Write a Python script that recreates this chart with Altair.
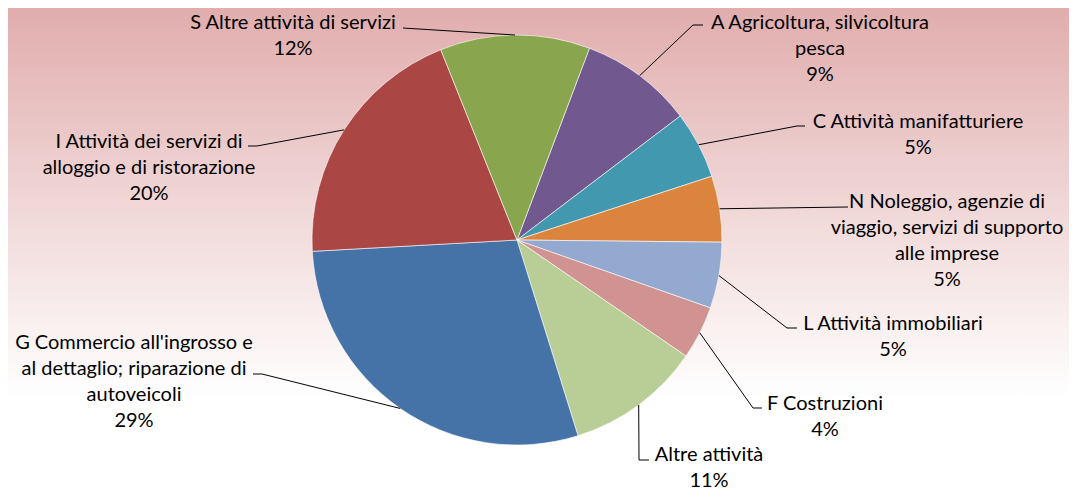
import altair as alt
import pandas as pd
import numpy as np

# ---------------- data ----------------
categories = [
    "A Agricoltura, silvicoltura pesca",
    "C Attività manifatturiere",
    "N Noleggio, agenzie di viaggio, servizi di supporto alle imprese",
    "L Attività immobiliari",
    "F Costruzioni",
    "Altre attività",
    "G Commercio all'ingrosso e al dettaglio; riparazione di autoveicoli",
    "I Attività dei servizi di alloggio e di ristorazione",
    "S Altre attività di servizi",
]
values = [8.9, 5.3, 5.2, 5.2, 4.2, 10.6, 28.9, 19.8, 11.8]
label_text = [
    "A Agricoltura, silvicoltura\npesca",
    "C Attività manifatturiere",
    "N Noleggio, agenzie di\nviaggio, servizi di supporto\nalle imprese",
    "L Attività immobiliari",
    "F Costruzioni",
    "Altre attività",
    "G Commercio all'ingrosso e\nal dettaglio; riparazione di\nautoveicoli",
    "I Attività dei servizi di\nalloggio e di ristorazione",
    "S Altre attività di servizi",
]
colors = ["#71588F", "#4198AF", "#DB843D", "#93A9CF", "#D19392",
          "#B9CD96", "#4572A7", "#AA4643", "#89A54E"]

# ---------------- layout ----------------
W, H = 1061, 482
OFF = 8                      # page margin
CX, CY, R = 517 - OFF, 240 - OFF, 205
START = np.deg2rad(20.7)     # first slice begins right of 12 o'clock

# label anchors (page coords: centre x, first baseline y)
label_pos = [(820, 29), (918, 128), (947, 208), (893, 330), (825, 410),
             (709, 461), (134, 349), (149, 148), (293, 29)]
# leader line elbow / end points (page coords), edge point computed from data
leader_pts = [
    [(693, 25), (703, 25)],
    [(797, 126), (805, 126)],
    [(848, 207)],
    [(787, 328), (797, 328)],
    [(753, 408), (762, 408)],
    [(639, 460), (649, 460)],
    [(262, 374), (253, 374)],
    [(257, 146), (248, 146)],
    [(403, 28)],
]

total = sum(values)
pie_df = pd.DataFrame({"cat": categories, "value": values,
                       "idx": list(range(len(values)))})

# mid-angle edge points computed from the values
cum = np.cumsum(values)
mids = START + 2 * np.pi * (cum - np.array(values) / 2) / total
rows = []
for i, c in enumerate(categories):
    ex = CX + R * np.sin(mids[i])
    ey = CY - R * np.cos(mids[i])
    rows.append({"cat": c, "seq": 0, "px": ex, "py": ey})
    for j, (px, py) in enumerate(leader_pts[i]):
        rows.append({"cat": c, "seq": j + 1, "px": px - OFF, "py": py - OFF})
line_df = pd.DataFrame(rows)

txt_df = pd.DataFrame({
    "cat": categories,
    "label": [f"{t}\n{round(v)}%" for t, v in zip(label_text, values)],
    "tx": [p[0] - OFF for p in label_pos],
    "ty": [p[1] - OFF for p in label_pos],
})

bg = alt.Chart(pd.DataFrame({"a": [0]})).mark_rect(
    color=alt.LinearGradient(
        gradient="linear",
        stops=[alt.GradientStop(color="#E1ADAD", offset=0),
               alt.GradientStop(color="#F0D6D6", offset=0.4),
               alt.GradientStop(color="#FFFFFF", offset=0.81),
               alt.GradientStop(color="#FFFFFF", offset=1)],
        x1=0, x2=0, y1=0, y2=1)
).encode(x=alt.value(0), x2=alt.value(W), y=alt.value(0), y2=alt.value(H))

pie = alt.Chart(pie_df).mark_arc(outerRadius=R, stroke="#FFFFFF", strokeWidth=0.6).encode(
    theta=alt.Theta("value:Q", stack=True,
                    scale=alt.Scale(range=[float(START), float(START + 2 * np.pi)])),
    color=alt.Color("cat:N", scale=alt.Scale(domain=categories, range=colors), legend=None),
    order=alt.Order("idx:Q"),
    x=alt.value(CX), y=alt.value(CY),
)

leaders = alt.Chart(line_df).mark_line(color="#000000", strokeWidth=1).encode(
    x=alt.X("px:Q", scale=None), y=alt.Y("py:Q", scale=None),
    detail="cat:N", order="seq:Q",
)

labels = alt.Chart(txt_df).mark_text(
    align="center", baseline="alphabetic", lineBreak="\n", lineHeight=26,
    font="Lato", fontSize=20, color="#000000",
).encode(x=alt.X("tx:Q", scale=None), y=alt.Y("ty:Q", scale=None), text="label:N")

chart = alt.layer(bg, pie, leaders, labels).properties(
    width=W, height=H, padding=0,
    autosize=alt.AutoSizeParams(type="none"),
).configure_view(stroke=None)

chart.save("out.html", embed_options={"renderer": "svg", "actions": False})
